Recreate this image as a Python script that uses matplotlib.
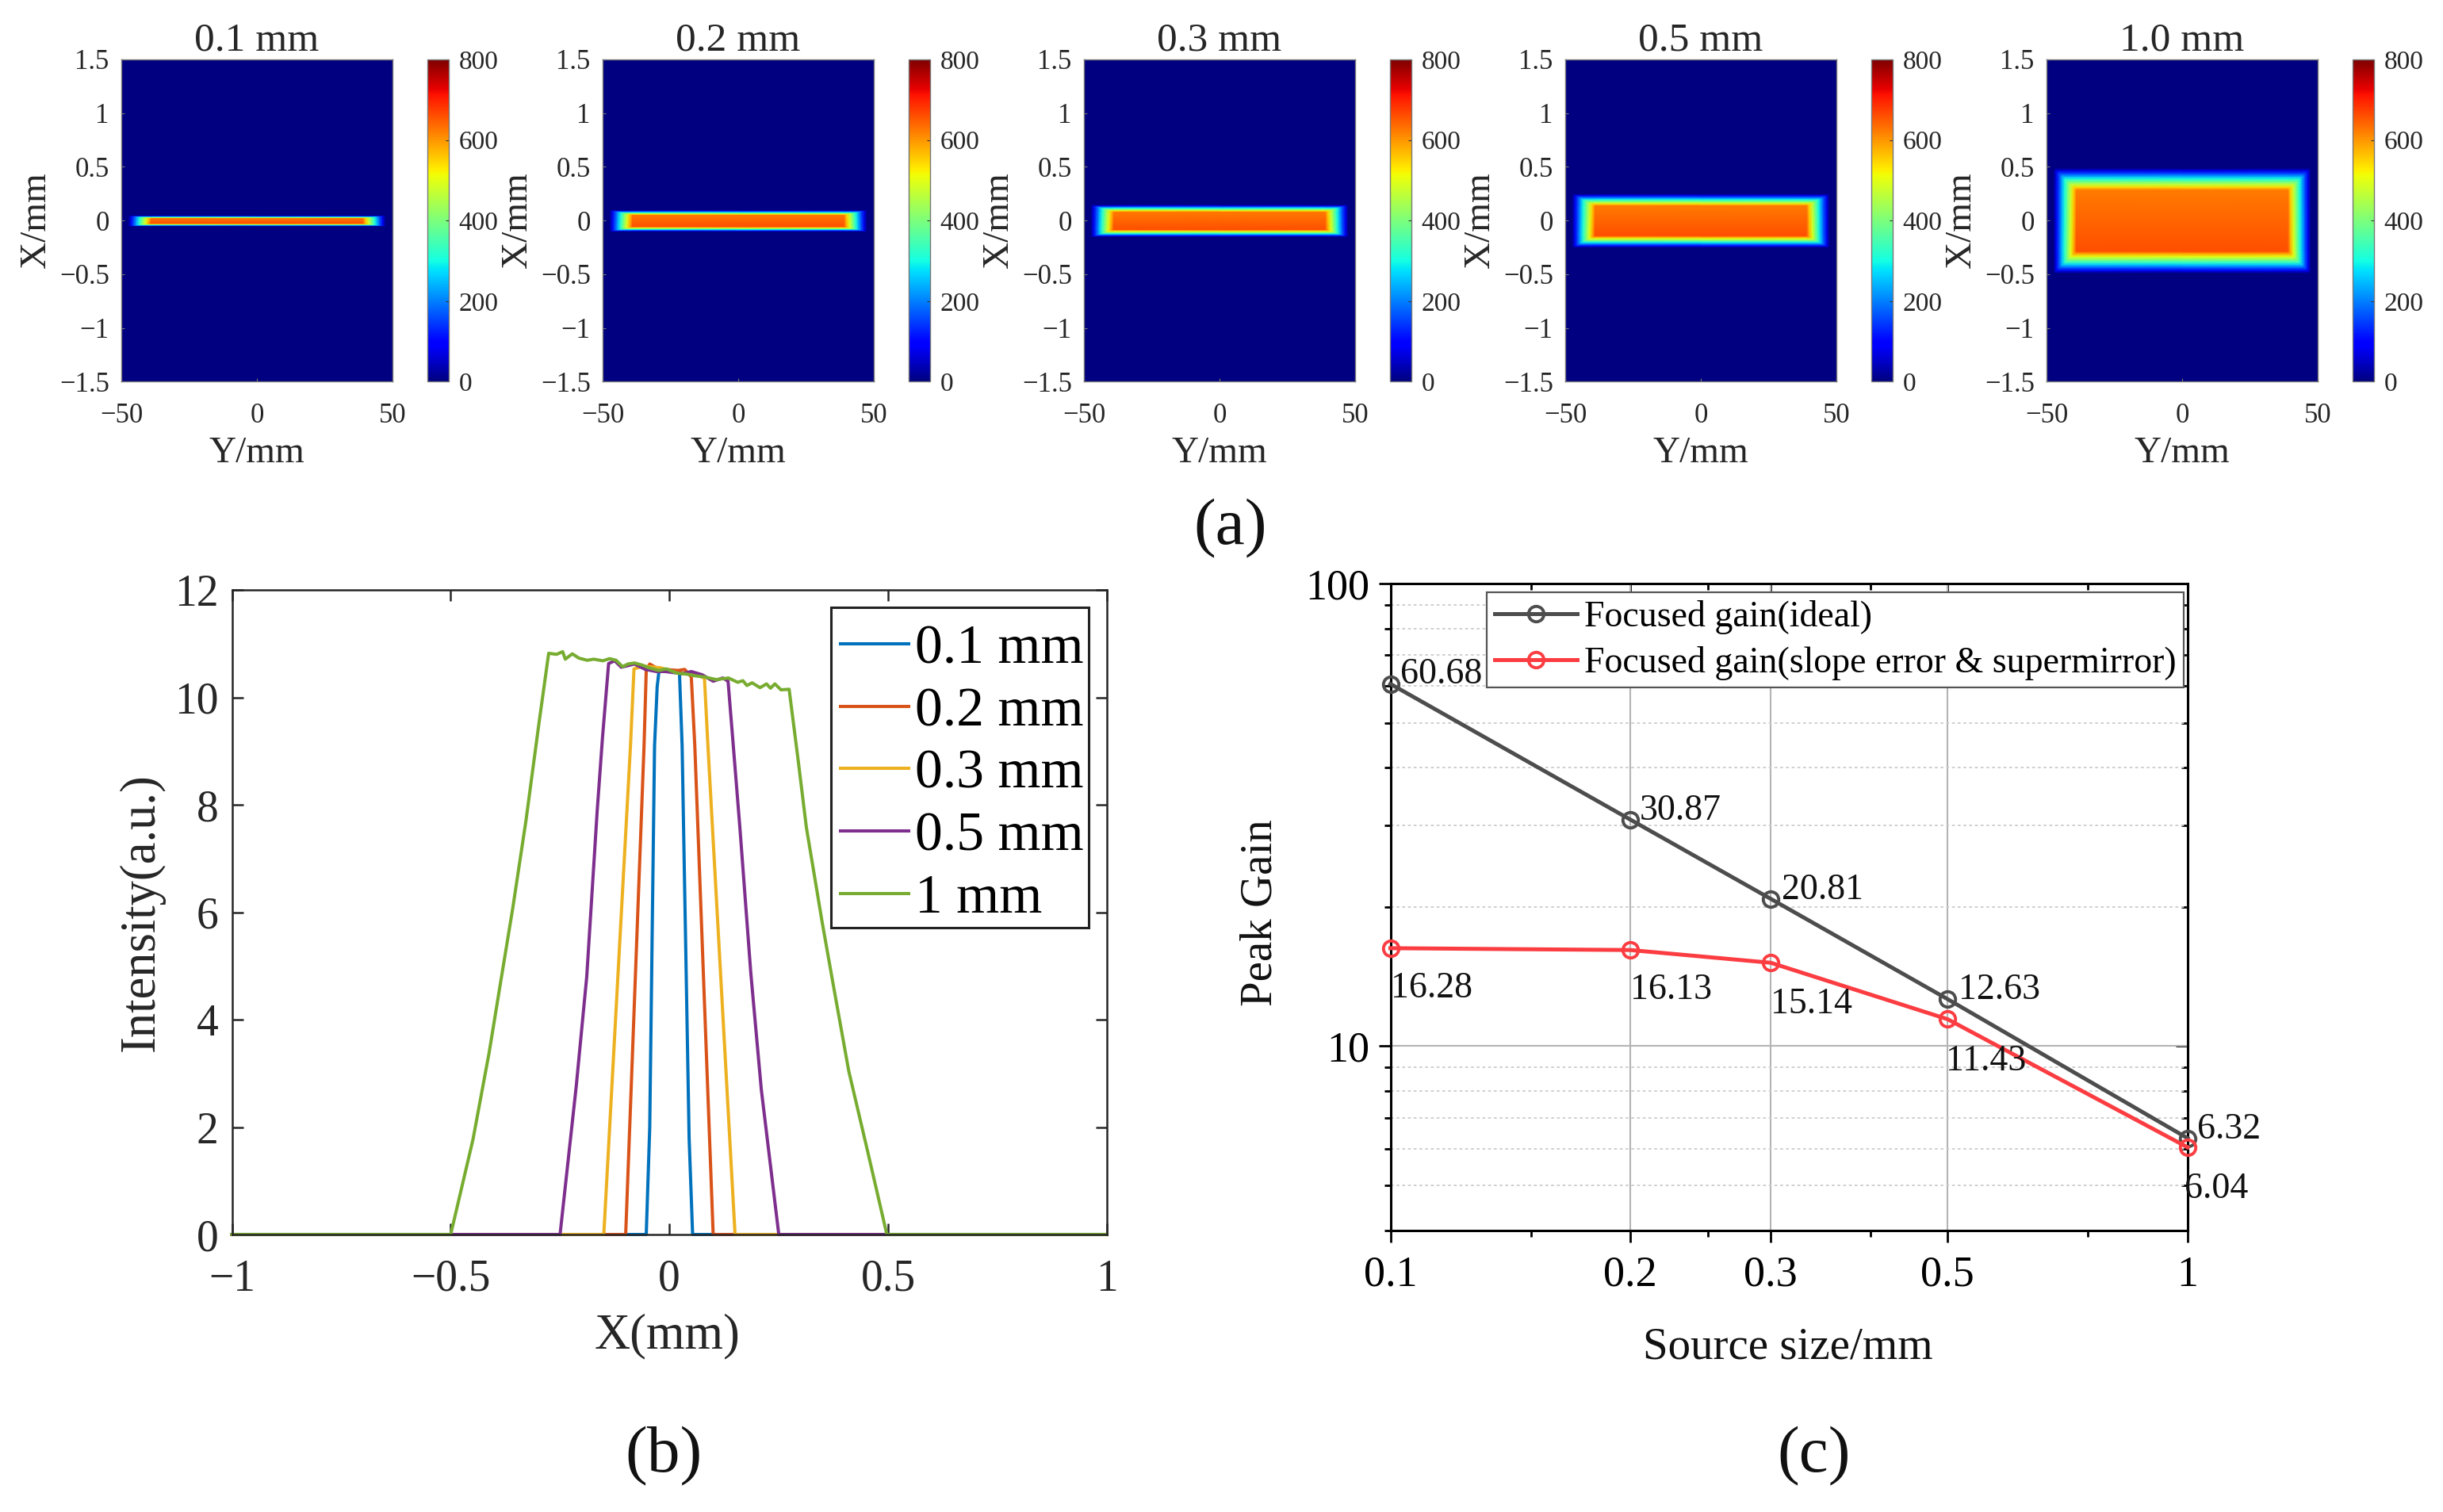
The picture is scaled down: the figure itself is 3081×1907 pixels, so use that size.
import numpy as np
import matplotlib
matplotlib.use("Agg")
import matplotlib.pyplot as plt
from matplotlib.patches import Rectangle
from matplotlib.ticker import FixedLocator, FixedFormatter, NullFormatter

plt.rcParams['font.family'] = ['Liberation Serif', 'DejaVu Serif']
W, H = 3081, 1907

# ---- panel (a): beam images
HEAT_TITLES = ['0.1 mm', '0.2 mm', '0.3 mm', '0.5 mm', '1.0 mm']
HEAT_X_FOOT = [0.05, 0.10, 0.15, 0.25, 0.49]
HEAT_X_SHOULDER = [0.025, 0.055, 0.083, 0.14, 0.285]
HEAT_Y_FOOT = 47.5
HEAT_Y_SHOULDER = 39.0
HEAT_TOP_VALUE = 622.0      # intensity at +X shoulder
HEAT_BOTTOM_VALUE = 660.0   # intensity at -X shoulder
RAMP_STEPS = [0.0, 0.12, 0.25, 0.38, 0.5, 0.62, 0.75, 0.88, 1.0]
HEAT_X_TICKS = [-50, 0, 50]
HEAT_Y_TICKS = [-1.5, -1, -0.5, 0, 0.5, 1, 1.5]
HEAT_Y_LABELS = ['\u22121.5', '\u22121', '\u22120.5', '0', '0.5', '1', '1.5']
CBAR_TICKS = [0, 200, 400, 600, 800]
HEAT_LEFTS = [153, 760, 1367, 1974, 2581]

# ---- panel (b): profiles
P01_X = [-1, -0.053, -0.045, -0.034, -0.028, -0.024, -0.01, 0.01, 0.023, 0.029, 0.045, 0.053, 1]
P01_Y = [0, 0, 2.0, 9.1, 10.2, 10.48, 10.5, 10.47, 10.45, 9.1, 1.8, 0, 0]
P02_X = [-1, -0.1, -0.058, -0.053, -0.045, -0.03, -0.01, 0.02, 0.035, 0.05, 0.058, 0.1, 1]
P02_Y = [0, 0, 9.1, 10.5, 10.62, 10.55, 10.52, 10.5, 10.52, 10.38, 9.1, 0, 0]
P03_X = [-1, -0.15, -0.089, -0.081, -0.06, -0.02, 0.02, 0.05, 0.08, 0.088, 0.15, 1]
P03_Y = [0, 0, 9.1, 10.53, 10.58, 10.55, 10.45, 10.45, 10.36, 9.1, 0, 0]
P05_X = [-1, -0.25, -0.213, -0.189, -0.165, -0.153, -0.139, -0.125, -0.11, -0.08, -0.055, -0.03, -0.01, 0.03,
         0.05, 0.075, 0.1, 0.122, 0.134, 0.143, 0.161, 0.186, 0.21, 0.25, 1]
P05_Y = [0, 0, 2.76, 4.8, 7.9, 9.25, 10.63, 10.68, 10.56, 10.62, 10.52, 10.48, 10.48, 10.44,
         10.48, 10.42, 10.3, 10.36, 10.3, 9.4, 7.58, 4.87, 2.7, 0, 0]
P10_X = [-1, -0.5, -0.449, -0.412, -0.388, -0.358, -0.328, -0.298, -0.276, -0.258, -0.244, -0.238, -0.222, -0.207,
         -0.188, -0.173, -0.152, -0.137, -0.122, -0.107, -0.095, -0.08, -0.062, -0.047, -0.025, -0.007, 0.017, 0.041,
         0.059, 0.08, 0.107, 0.135, 0.156, 0.168, 0.177, 0.189, 0.207, 0.222, 0.231, 0.241, 0.255, 0.2736,
         0.2947, 0.313, 0.349, 0.374, 0.41, 0.453, 0.497, 1]
P10_Y = [0, 0, 1.77, 3.39, 4.59, 6.08, 7.7, 9.53, 10.82, 10.8, 10.85, 10.71, 10.81, 10.73,
         10.69, 10.71, 10.68, 10.72, 10.69, 10.57, 10.62, 10.64, 10.6, 10.55, 10.5, 10.53, 10.45, 10.43,
         10.4, 10.38, 10.33, 10.36, 10.28, 10.31, 10.22, 10.27, 10.18, 10.25, 10.17, 10.25, 10.14, 10.15,
         8.8, 7.58, 5.82, 4.67, 3.04, 1.55, 0, 0]
PROFILE_LABELS = ['0.1 mm', '0.2 mm', '0.3 mm', '0.5 mm', '1 mm']
PROFILE_COLORS = ['#0072BD', '#D95319', '#EDB120', '#7E2F8E', '#77AC30']

# ---- panel (c): gain
SOURCE = [0.1, 0.2, 0.3, 0.5, 1.0]
GAIN_IDEAL = [60.68, 30.87, 20.81, 12.63, 6.32]
GAIN_REAL = [16.28, 16.13, 15.14, 11.43, 6.04]
IDEAL_OFFSETS = [(12, 12), (12, 11), (14, 11), (14, 11), (12, 11)]
REAL_OFFSETS = [(0, -51), (0, -51), (0, -52), (-2, -53), (-4, -53)]
SOURCE_TICK_LABELS = ['0.1', '0.2', '0.3', '0.5', '1']
SOURCE_MINOR = [0.15, 0.25, 0.4, 0.75]
GAIN_MINOR = [4, 5, 6, 7, 8, 9, 20, 30, 40, 50, 60, 70, 80, 90]

fig = plt.figure(figsize=(W / 100, H / 100), dpi=100, facecolor='white')


def box(l, t, r, b):
    return [l / W, 1 - b / H, (r - l) / W, (b - t) / H]


def fx(x):
    return x / W


def fy(y):
    return 1 - y / H


TXT = '#262626'
GREY = '#777777'
for i, title in enumerate(HEAT_TITLES):
    l = HEAT_LEFTS[i]
    ax = fig.add_axes(box(l, 75, l + 342, 481.5))
    steps = np.array(RAMP_STEPS)
    xf, xs = HEAT_X_FOOT[i], HEAT_X_SHOULDER[i]
    xr = xf + (xs - xf) * steps
    yr = HEAT_Y_FOOT + (HEAT_Y_SHOULDER - HEAT_Y_FOOT) * steps
    xn = np.r_[-1.5, -xf - 0.02, -xr, xr[::-1], xf + 0.02, 1.5]
    yn = np.r_[-50, -HEAT_Y_FOOT - 0.5, -yr, yr[::-1], HEAT_Y_FOOT + 0.5, 50]
    fr_x = np.r_[0, 0, steps, steps[::-1], 0, 0]
    fr_y = np.r_[0, 0, steps, steps[::-1], 0, 0]
    plateau = HEAT_BOTTOM_VALUE + (HEAT_TOP_VALUE - HEAT_BOTTOM_VALUE) * (xn + xs) / (2 * xs)
    plateau = np.clip(plateau, HEAT_TOP_VALUE, HEAT_BOTTOM_VALUE)
    Z = np.minimum.outer(fr_x, fr_y) * plateau[:, None]
    m = ax.pcolormesh(yn, xn, Z, cmap='jet', vmin=0, vmax=800, shading='gouraud', rasterized=True)
    ax.set_xlim(-50, 50)
    ax.set_ylim(-1.5, 1.5)
    ax.set_xticks(HEAT_X_TICKS)
    ax.set_yticks(HEAT_Y_TICKS)
    ax.set_yticklabels(HEAT_Y_LABELS)
    ax.tick_params(axis='x', direction='in', length=3, color=GREY, labelsize=25, labelcolor=TXT, pad=19)
    ax.tick_params(axis='y', direction='in', length=3, color=GREY, labelsize=25, labelcolor=TXT, pad=11)
    for s in ax.spines.values():
        s.set_color(GREY)
        s.set_linewidth(1.0)
    ax.set_title(title, fontsize=37, color=TXT, pad=6)
    fig.text(fx(l + 171), fy(572), 'Y/mm', fontsize=34, color=TXT, ha='center', va='center')
    fig.text(fx(l - 107), fy(278), 'X/mm', fontsize=34, color=TXT, ha='center', va='center', rotation=90)
    cax = fig.add_axes(box(l + 386, 75, l + 413, 481.5))
    cb = fig.colorbar(m, cax=cax, ticks=CBAR_TICKS)
    cb.ax.tick_params(direction='in', length=3, color='#333333', labelsize=24, labelcolor=TXT, pad=9)
    cb.outline.set_edgecolor(GREY)
    cb.outline.set_linewidth(1.0)

# ---- (b)
axb = fig.add_axes(box(292.5, 744, 1396, 1557))
series = [(P01_X, P01_Y), (P02_X, P02_Y), (P03_X, P03_Y), (P05_X, P05_Y), (P10_X, P10_Y)]
for (x, y), c, lab in zip(series, PROFILE_COLORS, PROFILE_LABELS):
    axb.plot(x, y, color=c, lw=2.9, label=lab, clip_on=False, solid_joinstyle='round')
axb.set_xlim(-1, 1)
axb.set_ylim(0, 12)
axb.set_xticks([-1, -0.5, 0, 0.5, 1])
axb.set_xticklabels(['\u22121', '\u22120.5', '0', '0.5', '1'])
axb.set_yticks([0, 2, 4, 6, 8, 10, 12])
axb.tick_params(axis='both', which='major', direction='in', length=10, width=1.8, color=TXT,
                labelsize=40, labelcolor=TXT, top=True, right=True)
axb.tick_params(axis='x', pad=22)
axb.tick_params(axis='y', pad=12)
for s in axb.spines.values():
    s.set_color(TXT)
    s.set_linewidth(1.8)
fig.text(fx(842), fy(1685), 'X(mm)', fontsize=45, color=TXT, ha='center', va='center')
fig.text(fx(179), fy(1151), 'Intensity(a.u.)', fontsize=45, color=TXT, ha='center', va='center', rotation=90)
axb.add_patch(Rectangle((fx(1048), fy(1170)), fx(325), 404 / H, transform=fig.transFigure, facecolor='white',
                        edgecolor='#222222', lw=2.2, zorder=4.5, clip_on=False))
leg = axb.legend(loc='upper left', bbox_to_anchor=(fx(1048), fy(776)), bbox_transform=fig.transFigure,
                 borderaxespad=0, fontsize=50, frameon=False,
                 handlelength=1.24, handletextpad=0.12, labelspacing=0.217, borderpad=0.17)
leg.set_zorder(5)
for t in leg.get_texts():
    t.set_color('black')

# ---- (c)
axc = fig.add_axes(box(1753.5, 736, 2759, 1551.5))
axc.set_xscale('log')
axc.set_yscale('log')
axc.set_xlim(0.1, 1)
axc.set_ylim(4, 100)
axc.xaxis.set_major_locator(FixedLocator(SOURCE))
axc.xaxis.set_major_formatter(FixedFormatter(SOURCE_TICK_LABELS))
axc.xaxis.set_minor_locator(FixedLocator(SOURCE_MINOR))
axc.xaxis.set_minor_formatter(NullFormatter())
axc.yaxis.set_major_locator(FixedLocator([10, 100]))
axc.yaxis.set_major_formatter(FixedFormatter(['10', '100']))
axc.yaxis.set_minor_locator(FixedLocator(GAIN_MINOR))
axc.yaxis.set_minor_formatter(NullFormatter())
axc.tick_params(which='major', direction='out', length=11, width=2.0, color='black', labelsize=39, labelcolor='black')
axc.tick_params(which='minor', direction='out', length=6, width=2.0, color='black')
axc.tick_params(axis='x', which='major', pad=12)
axc.tick_params(axis='y', which='major', pad=8)
axc.grid(True, which='major', color='#b4b4b4', lw=1.5)
axc.grid(True, which='minor', axis='y', color='#cccccc', lw=1.3, ls=(0, (2, 2)))
axc.set_axisbelow(True)
for s in axc.spines.values():
    s.set_color('black')
    s.set_linewidth(2.2)
top = axc.secondary_xaxis('top')
top.set_xscale('log')
top.xaxis.set_major_locator(FixedLocator(SOURCE))
top.xaxis.set_minor_locator(FixedLocator(SOURCE_MINOR))
top.xaxis.set_major_formatter(NullFormatter())
top.xaxis.set_minor_formatter(NullFormatter())
top.tick_params(which='major', direction='in', length=11, width=2.0)
top.tick_params(which='minor', direction='in', length=6, width=2.0)
right = axc.secondary_yaxis('right')
right.set_yscale('log')
right.yaxis.set_major_locator(FixedLocator([10, 100]))
right.yaxis.set_minor_locator(FixedLocator(GAIN_MINOR))
right.yaxis.set_major_formatter(NullFormatter())
right.yaxis.set_minor_formatter(NullFormatter())
right.tick_params(which='major', direction='in', length=11, width=2.0)
right.tick_params(which='minor', direction='in', length=6, width=2.0)

C_IDEAL, C_REAL = '#4d4d4d', '#fb3d42'
axc.plot(SOURCE, GAIN_IDEAL, color=C_IDEAL, lw=3.6, marker='o', ms=14, mfc='none', mew=2.8,
         label='Focused gain(ideal)', clip_on=False, zorder=4)
axc.plot(SOURCE, GAIN_REAL, color=C_REAL, lw=3.6, marker='o', ms=14, mfc='none', mew=2.8,
         label='Focused gain(slope error & supermirror)', clip_on=False, zorder=5)
for x, y, (dx, dy), v in zip(SOURCE, GAIN_IDEAL, IDEAL_OFFSETS, GAIN_IDEAL):
    axc.annotate(f'{v:.2f}', (x, y), xytext=(dx * 0.72, dy * 0.72), textcoords='offset points',
                 fontsize=33, color='#111111', ha='left', va='center', annotation_clip=False, zorder=6)
for x, y, (dx, dy), v in zip(SOURCE, GAIN_REAL, REAL_OFFSETS, GAIN_REAL):
    axc.annotate(f'{v:.2f}', (x, y), xytext=(dx * 0.72, dy * 0.72), textcoords='offset points',
                 fontsize=33, color='#111111', ha='left', va='center', annotation_clip=False, zorder=6)
fig.text(fx(2255), fy(1700), 'Source size/mm', fontsize=41, color='#111111', ha='center', va='center')
fig.text(fx(1590), fy(1151), 'Peak Gain', fontsize=41, color='#111111', ha='center', va='center', rotation=90)
legc = axc.legend(loc='upper left', bbox_to_anchor=(fx(1875), fy(747)), bbox_transform=fig.transFigure,
                  borderaxespad=0, fontsize=33, frameon=True, fancybox=False, framealpha=1,
                  edgecolor='#555555', handlelength=2.27, handletextpad=0.2, labelspacing=0.33,
                  borderpad=0.21, numpoints=1)
legc.get_frame().set_linewidth(1.6)
legc.set_zorder(7)

# ---- panel letters
fig.text(fx(1552), fy(667), '(a)', fontsize=60, color='#111111', ha='center', va='center')
fig.text(fx(837), fy(1837), '(b)', fontsize=60, color='#111111', ha='center', va='center')
fig.text(fx(2288), fy(1837), '(c)', fontsize=60, color='#111111', ha='center', va='center')

fig.savefig('out.png', dpi=100, facecolor='white')
